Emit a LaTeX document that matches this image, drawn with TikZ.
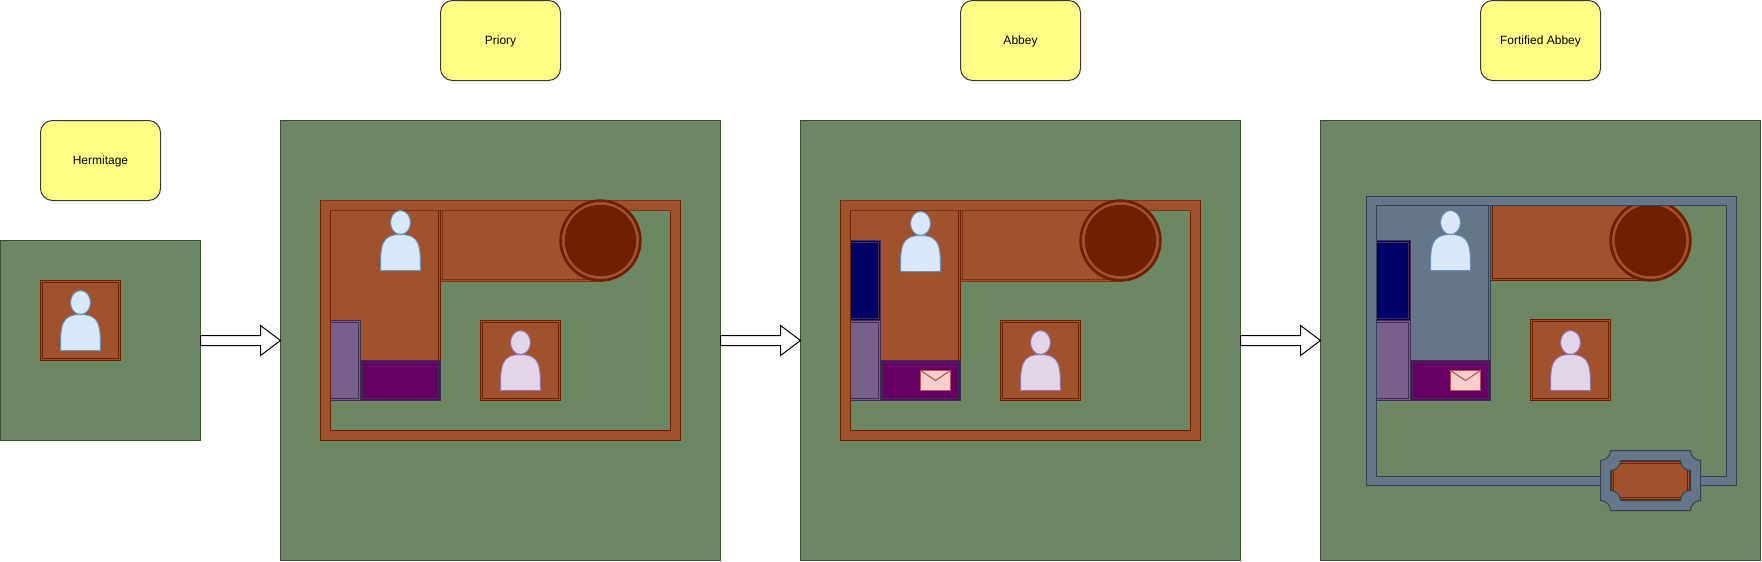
\documentclass[tikz,border=0pt]{standalone}
\usepackage{fontspec}
\setmainfont{Liberation Sans}
\usetikzlibrary{calc}
\definecolor{greenc}{HTML}{6D8764}\definecolor{greenl}{HTML}{3A5431}
\definecolor{brownc}{HTML}{A0522D}\definecolor{darkc}{HTML}{6D1F00}
\definecolor{dimc}{HTML}{7B3215}
\definecolor{slatec}{HTML}{647687}\definecolor{slatel}{HTML}{314354}
\definecolor{lavc}{HTML}{76608A}\definecolor{lavl}{HTML}{432D57}
\definecolor{purc}{HTML}{660066}\definecolor{navc}{HTML}{000066}
\definecolor{yelc}{HTML}{FFFF88}\definecolor{yell}{HTML}{36393D}
\definecolor{bluec}{HTML}{DAE8FC}\definecolor{bluel}{HTML}{6C8EBF}
\definecolor{lilc}{HTML}{E1D5E7}\definecolor{lill}{HTML}{9673A6}
\definecolor{envc}{HTML}{F8CECC}\definecolor{envl}{HTML}{B85450}
\tikzset{
  boxbase/.style={rectangle,inner sep=0pt,outer sep=0pt,line width=1pt},
  land/.style={boxbase,fill=greenc,draw=greenl},
  tag/.style={boxbase,fill=yelc,draw=yell,rounded corners=12pt},
  tagtext/.style={anchor=base,inner sep=0pt,font=\fontsize{12}{14}\selectfont,text=black},
  dblbox/.style 2 args={boxbase,fill=#1,draw=#2,double=#1,double distance=1pt},
  brownbox/.style={dblbox={brownc}{darkc}},
  dimbox/.style={dblbox={brownc}{dimc}},
  slatebox/.style={dblbox={slatec}{slatel}},
  lavbox/.style={dblbox={lavc}{lavl}},
  purbox/.style={dblbox={purc}{lavl}},
  navbox/.style={dblbox={navc}{lavl}},
  bluep/.style={fill=bluec,draw=bluel,line width=1pt},
  lilp/.style={fill=lilc,draw=lill,line width=1pt},
  envstyle/.style={fill=envc,draw=envl,line width=1pt},
  brownwall/.style={fill=brownc,draw=darkc,line width=1pt,even odd rule},
  slatewall/.style={fill=slatec,draw=slatel,line width=1pt,even odd rule},
  flow/.style={fill=white,draw=black,line width=1pt,miter limit=10},
  toweredge/.style={circle,inner sep=0pt,outer sep=0pt,fill=brownc,draw=darkc,line width=2.7pt,minimum size=79.6pt},
  towercore/.style={circle,inner sep=0pt,outer sep=0pt,fill=darkc,minimum size=71.5pt},
}
% plain box: name, x1,y1,x2,y2, style
\newcommand\plainbox[6]{\node[#6,minimum width={(#4-#2)*1pt},minimum height={(#5-#3)*1pt}] (#1) at ({(#2+#4)/2},{(#3+#5)/2}) {};}
% double-line box, outer edge given
\newcommand\dblrect[6]{\node[#6,minimum width={(#4-#2-2)*1pt},minimum height={(#5-#3-2)*1pt}] (#1) at ({(#2+#4)/2},{(#3+#5)/2}) {};}
% person: x,y of the top left corner of a 40x60 figure
\newcommand\personfig[3]{\begin{scope}[shift={(#1,#2)}]
  \draw[#3] (0,60) .. controls (0,36) and (0,24) .. (20,24) .. controls (40,24) and (40,36) .. (40,60) -- cycle;
  \draw[#3] (20,12) ellipse (10pt and 12pt);
\end{scope}}
\newcommand\mailfig[2]{\begin{scope}[shift={(#1,#2)}]
  \draw[envstyle] (0,0) rectangle (30,20);
  \draw[envstyle,fill=none] (0,0) -- (15,10) -- (30,0);
\end{scope}}
% plaque outline as path part: x1,y1,x2,y2,r
\newcommand\plaquepart[5]{({#1+#5},#2) -- ({#3-#5},#2)
    .. controls ({#3-#5},{#2+.55*#5}) and ({#3-.55*#5},{#2+#5}) .. (#3,{#2+#5})
    -- (#3,{#4-#5})
    .. controls ({#3-.55*#5},{#4-#5}) and ({#3-#5},{#4-.55*#5}) .. ({#3-#5},#4)
    -- ({#1+#5},#4)
    .. controls ({#1+#5},{#4-.55*#5}) and ({#1+.55*#5},{#4-#5}) .. (#1,{#4-#5})
    -- (#1,{#2+#5})
    .. controls ({#1+.55*#5},{#2+#5}) and ({#1+#5},{#2+.55*#5}) .. ({#1+#5},#2) -- cycle}
% arrow from node to node
\newcommand\flowarrow[2]{\draw[flow] ($(#1.east)+(0,-5)$) -- ($(#2.west)+(-20,-5)$) -- ($(#2.west)+(-20,-15)$) -- (#2.west) -- ($(#2.west)+(-20,15)$) -- ($(#2.west)+(-20,5)$) -- ($(#1.east)+(0,5)$) -- cycle;}
% tower
\newcommand\towerfig[1]{\node[toweredge] (#1e) at (600,240) {};\node[towercore] (#1c) at (600,240) {};}
\newcommand\townwall{\draw[brownwall] (320,200) rectangle (680,440) (330,210) rectangle (670,430);
  \draw[dimc,line width=1pt] (320,200) -- (680,200) (330,210) -- (670,210);}
\begin{document}
\begin{tikzpicture}[x=1pt,y=-1pt]
\useasboundingbox (0,0) rectangle (1762,562);
\begin{scope}[shift={(.5,.5)}]
% Hermitage
\plainbox{t1}{40}{120}{160}{200}{tag}
\node[tagtext] (t1x) at ($(t1.center)+(0,4)$) {Hermitage};
\plainbox{g1}{0}{240}{200}{440}{land}
\dblrect{h1}{40}{280}{120}{360}{brownbox}
\personfig{60}{290}{bluep}
% Priory
\plainbox{t2}{440}{0}{560}{80}{tag}
\node[tagtext] (t2x) at ($(t2.center)+(0,4)$) {Priory};
\plainbox{g2}{280}{120}{720}{560}{land}
\dblrect{a2}{440}{200}{600}{281}{dimbox}
\dblrect{b2}{320}{200}{440}{400}{brownbox}
\dblrect{c2}{320}{320}{360}{400}{lavbox}
\dblrect{d2}{360}{360}{440}{400}{purbox}
\townwall
\personfig{380}{210}{bluep}
\dblrect{e2}{480}{320}{560}{400}{brownbox}
\personfig{500}{330}{lilp}
\towerfig{f2}
% Abbey
\plainbox{t3}{960}{0}{1080}{80}{tag}
\node[tagtext] (t3x) at ($(t3.center)+(0,4)$) {Abbey};
\plainbox{g3}{800}{120}{1240}{560}{land}
\begin{scope}[shift={(520,0)}]
\dblrect{a3}{440}{200}{600}{281}{dimbox}
\dblrect{b3}{320}{200}{440}{400}{brownbox}
\dblrect{n3}{320}{240}{360}{320}{navbox}
\dblrect{c3}{320}{320}{360}{400}{lavbox}
\dblrect{d3}{360}{360}{440}{400}{purbox}
\mailfig{400}{370}
\personfig{380}{211}{bluep}
\townwall
\dblrect{e3}{480}{320}{560}{400}{brownbox}
\personfig{500}{330}{lilp}
\towerfig{f3}
\end{scope}
% Fortified Abbey
\plainbox{t4}{1480}{0}{1600}{80}{tag}
\node[tagtext] (t4x) at ($(t4.center)+(0,4)$) {Fortified Abbey};
\plainbox{g4}{1320}{120}{1760}{560}{land}
\begin{scope}[shift={(1050,0)}]
\dblrect{a4}{440}{200}{600}{280}{brownbox}
\dblrect{b4}{320}{200}{440}{400}{slatebox}
\dblrect{n4}{320}{240}{360}{320}{navbox}
\dblrect{c4}{320}{320}{360}{400}{lavbox}
\dblrect{d4}{360}{360}{440}{400}{purbox}
\mailfig{400}{370}
\personfig{380}{210}{bluep}
\dblrect{e4}{480}{319}{560}{400}{brownbox}
\personfig{500}{330}{lilp}
\towerfig{f4}
\end{scope}
\draw[slatewall] (1366,196) rectangle (1736,485) (1376,205) rectangle (1726,476);
\dblrect{q4}{1611}{461}{1689}{499}{brownbox}
\draw[slatewall] \plaquepart{1600}{450}{1700}{510}{10} \plaquepart{1610}{460}{1690}{500}{10};
% arrows
\flowarrow{g1}{g2}
\flowarrow{g2}{g3}
\flowarrow{g3}{g4}
\end{scope}
\end{tikzpicture}
\end{document}
